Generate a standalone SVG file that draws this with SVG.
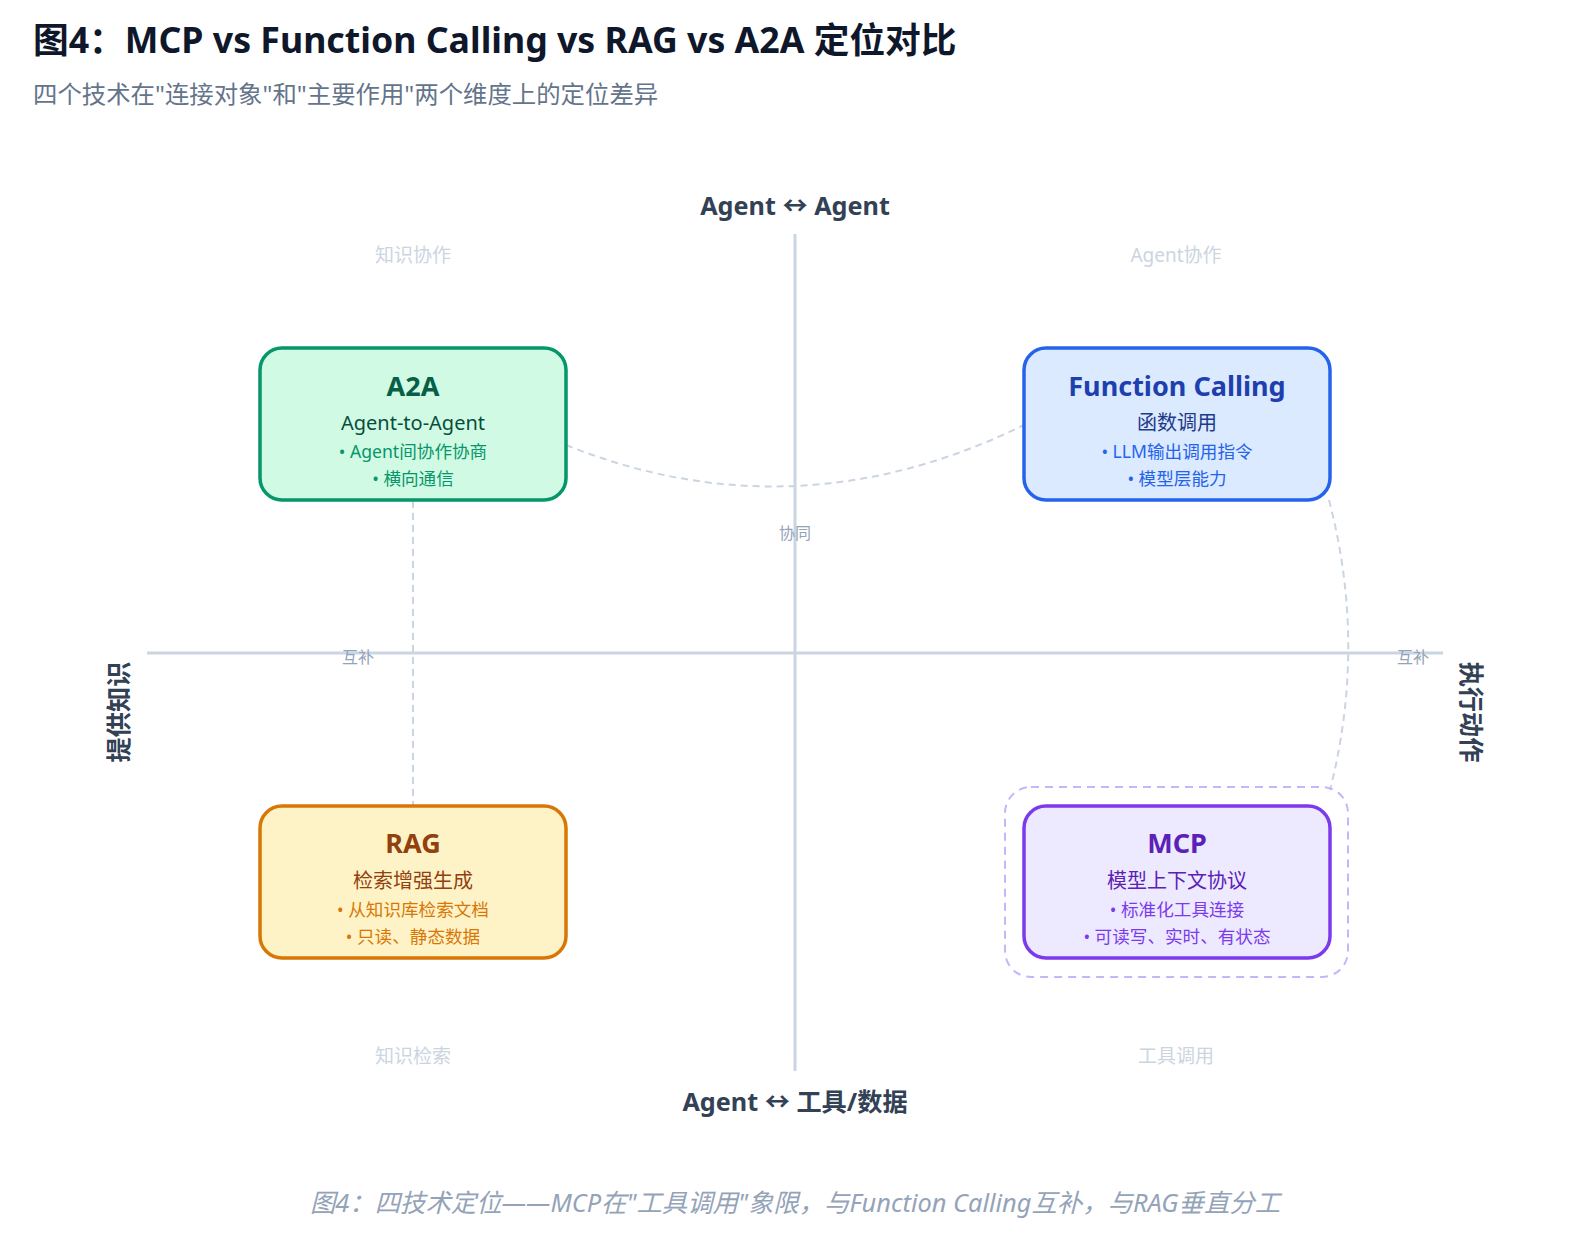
<svg xmlns="http://www.w3.org/2000/svg" width="1580" height="1244" viewBox="0 0 1580 1244">
<style>
text{font-family:"Noto Sans","Noto Sans CJK SC",sans-serif}
.title{font-size:35.7px;font-weight:700;fill:#0f172a}
.subtitle{font-size:24.4px;fill:#64748b}
.axis{stroke:#cbd5e1;stroke-width:3}
.axlab{font-size:25.2px;font-weight:700;fill:#334155;text-anchor:middle}
.quad{font-size:19px;fill:#cbd5e1;text-anchor:middle}
.conn{fill:none;stroke:#cbd5e1;stroke-width:2;stroke-dasharray:7 5}
.clab{font-size:16px;fill:#94a3b8;text-anchor:middle}
.box{stroke-width:3.5}
.nt{font-size:27px;font-weight:700;text-anchor:middle}
.ns{font-size:20px;text-anchor:middle}
.nb{font-size:17.6px;text-anchor:middle}
.caption{font-size:25.4px;font-style:italic;fill:#94a3b8;text-anchor:middle}
</style>
<rect width="1580" height="1244" fill="#ffffff"/>
<text class="title" x="33" y="53">图4：MCP vs Function Calling vs RAG vs A2A 定位对比</text>
<text class="subtitle" x="33" y="103">四个技术在"连接对象"和"主要作用"两个维度上的定位差异</text>

<g id="axes">
<line class="axis" x1="795" y1="234" x2="795" y2="1071"/>
<line class="axis" x1="147" y1="653" x2="1443" y2="653"/>
<text class="axlab" x="795" y="215">Agent ↔ Agent</text>
<text class="axlab" x="795" y="1111">Agent ↔ 工具/数据</text>
<text class="axlab" transform="translate(128,712) rotate(-90)">提供知识</text>
<text class="axlab" transform="translate(1462,712) rotate(90)">执行动作</text>
<text class="quad" x="413" y="262">知识协作</text>
<text class="quad" x="1176" y="262">Agent协作</text>
<text class="quad" x="413" y="1063">知识检索</text>
<text class="quad" x="1176" y="1063">工具调用</text>
</g>

<g id="connectors">
<path class="conn" d="M566,445 Q795,537 1024,425"/>
<text class="clab" x="795" y="539">协同</text>
<line class="conn" x1="413" y1="501" x2="413" y2="806"/>
<text class="clab" x="358" y="663">互补</text>
<path class="conn" d="M1329,500 Q1367,645 1330,790"/>
<text class="clab" x="1413" y="663">互补</text>
</g>

<g id="node-a2a">
<rect class="box" x="260" y="348" width="306" height="152" rx="22" fill="#d1fae5" stroke="#059669"/>
<text class="nt" x="413" y="396" fill="#065f46">A2A</text>
<text class="ns" x="413" y="430" fill="#064e3b">Agent-to-Agent</text>
<text class="nb" x="413" y="458" fill="#059669">• Agent间协作协商</text>
<text class="nb" x="413" y="485" fill="#059669">• 横向通信</text>
</g>

<g id="node-fc">
<rect class="box" x="1024" y="348" width="306" height="152" rx="22" fill="#dbeafe" stroke="#2563eb"/>
<text class="nt" x="1177" y="396" fill="#1e40af">Function Calling</text>
<text class="ns" x="1177" y="430" fill="#1e3a8a">函数调用</text>
<text class="nb" x="1177" y="458" fill="#2563eb">• LLM输出调用指令</text>
<text class="nb" x="1177" y="485" fill="#2563eb">• 模型层能力</text>
</g>

<g id="node-rag">
<rect class="box" x="260" y="806" width="306" height="152" rx="22" fill="#fef3c7" stroke="#d97706"/>
<text class="nt" x="413" y="853" fill="#92400e">RAG</text>
<text class="ns" x="413" y="888" fill="#92400e">检索增强生成</text>
<text class="nb" x="413" y="916" fill="#d97706">• 从知识库检索文档</text>
<text class="nb" x="413" y="943" fill="#d97706">• 只读、静态数据</text>
</g>

<g id="node-mcp">
<rect x="1005" y="787" width="343" height="190" rx="26" fill="none" stroke="#c4b5fd" stroke-width="2" stroke-dasharray="8 6"/>
<rect class="box" x="1024" y="806" width="306" height="152" rx="22" fill="#ede9fe" stroke="#7c3aed"/>
<text class="nt" x="1177" y="853" fill="#5b21b6">MCP</text>
<text class="ns" x="1177" y="888" fill="#5b21b6">模型上下文协议</text>
<text class="nb" x="1177" y="916" fill="#7c3aed">• 标准化工具连接</text>
<text class="nb" x="1177" y="943" fill="#7c3aed">• 可读写、实时、有状态</text>
</g>

<text class="caption" x="795" y="1212">图4：四技术定位——MCP在"工具调用"象限，与Function Calling互补，与RAG垂直分工</text>
</svg>
